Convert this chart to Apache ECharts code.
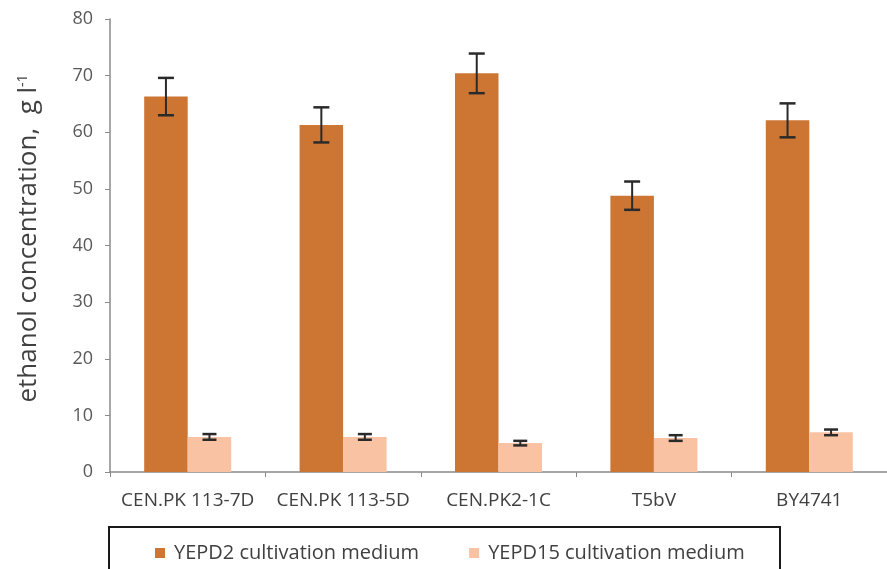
<!DOCTYPE html>
<html>
<head>
<meta charset="utf-8">
<script src="https://cdn.jsdelivr.net/npm/echarts@6/dist/echarts.min.js"></script>
<style>html,body{margin:0;padding:0;background:#fff}#c{width:887px;height:569px}</style>
</head>
<body>
<div id="c"></div>
<script>
const categories = ['CEN.PK 113-7D', 'CEN.PK 113-5D', 'CEN.PK2-1C', 'T5bV', 'BY4741'];
const yepd2 = [66.3, 61.3, 70.4, 48.8, 62.1];
const yepd2Err = [3.3, 3.1, 3.5, 2.5, 3.0];
const yepd15 = [6.2, 6.2, 5.1, 6.0, 7.0];
const yepd15Err = [0.5, 0.5, 0.4, 0.5, 0.5];
const seriesNames = ['YEPD2 cultivation medium', 'YEPD15 cultivation medium'];
const yTicks = { min: 0, max: 80, interval: 10 };

const BAR_FRAC = 0.28;
const font = 'Open Sans, Liberation Sans, sans-serif';

function errSeries(vals, errs, side, capW) {
  return {
    type: 'custom',
    silent: true,
    z: 5,
    data: vals.map((v, i) => [i, v, errs[i]]),
    renderItem: function (params, api) {
      const i = api.value(0), v = api.value(1), e = api.value(2);
      const bw = api.size([1, 0])[0] * BAR_FRAC;
      const c = api.coord([i, v]);
      const x = c[0] + side * bw / 2;
      const top = api.coord([i, v + e])[1];
      const bot = api.coord([i, v - e])[1];
      const st = { stroke: '#2a2a2a', lineWidth: 2 };
      const cs = { stroke: '#2a2a2a', lineWidth: 2.5 };
      return {
        type: 'group',
        children: [
          { type: 'line', shape: { x1: x, y1: top, x2: x, y2: bot }, style: st },
          { type: 'line', shape: { x1: x - capW / 2, y1: top, x2: x + capW / 2, y2: top }, style: cs },
          { type: 'line', shape: { x1: x - capW / 2, y1: bot, x2: x + capW / 2, y2: bot }, style: cs }
        ]
      };
    }
  };
}

const chart = echarts.init(document.getElementById('c'));
chart.setOption({
  animation: false,
  backgroundColor: '#fff',
  grid: { left: 110, top: 19, width: 785, bottom: 97, containLabel: false },
  xAxis: {
    type: 'category',
    data: categories,
    axisLine: { lineStyle: { color: '#8a8a8a', width: 1.5 } },
    axisTick: { show: true, length: 5, lineStyle: { color: '#8a8a8a' } },
    axisLabel: { color: '#404040', fontSize: 19, fontFamily: font, margin: 19, interval: 0, hideOverlap: false }
  },
  yAxis: {
    type: 'value',
    min: yTicks.min, max: yTicks.max, interval: yTicks.interval,
    splitLine: { show: false },
    axisLine: { show: true, lineStyle: { color: '#8a8a8a', width: 1.5 } },
    axisTick: { show: true, length: 5, lineStyle: { color: '#8a8a8a' } },
    axisLabel: { color: '#595959', fontSize: 18, fontFamily: font, margin: 17 },
    name: '{m|ethanol concentration,  g l}{s|-1}',
    nameLocation: 'middle',
    nameGap: 68,
    nameRotate: 90,
    nameTextStyle: {
      padding: [0, 0, 0, 14],
      rich: {
        m: { fontSize: 26, color: '#404040', fontFamily: font },
        s: { fontSize: 14, color: '#404040', fontFamily: font, verticalAlign: 'top', padding: [0, 0, 12, 0] }
      }
    }
  },
  legend: {
    left: 150, top: 538,
    itemWidth: 10, itemHeight: 10, itemGap: 50,
    icon: 'rect',
    textStyle: { color: '#404040', fontSize: 20, fontFamily: font, padding: [0, 0, 0, 4] },
    data: seriesNames
  },
  graphic: [{
    type: 'rect', silent: true,
    shape: { x: 109, y: 527, width: 671, height: 60 },
    style: { fill: 'none', stroke: '#1a1a1a', lineWidth: 2 }
  }],
  series: [
    { name: seriesNames[0], type: 'bar', data: yepd2, barWidth: (BAR_FRAC * 100) + '%', barGap: '0%',
      itemStyle: { color: '#CD7634' } },
    { name: seriesNames[1], type: 'bar', data: yepd15, barWidth: (BAR_FRAC * 100) + '%', barGap: '0%',
      itemStyle: { color: '#F9C2A3' } },
    errSeries(yepd2, yepd2Err, -1, 16),
    errSeries(yepd15, yepd15Err, 1, 14)
  ]
});
</script>
</body>
</html>
